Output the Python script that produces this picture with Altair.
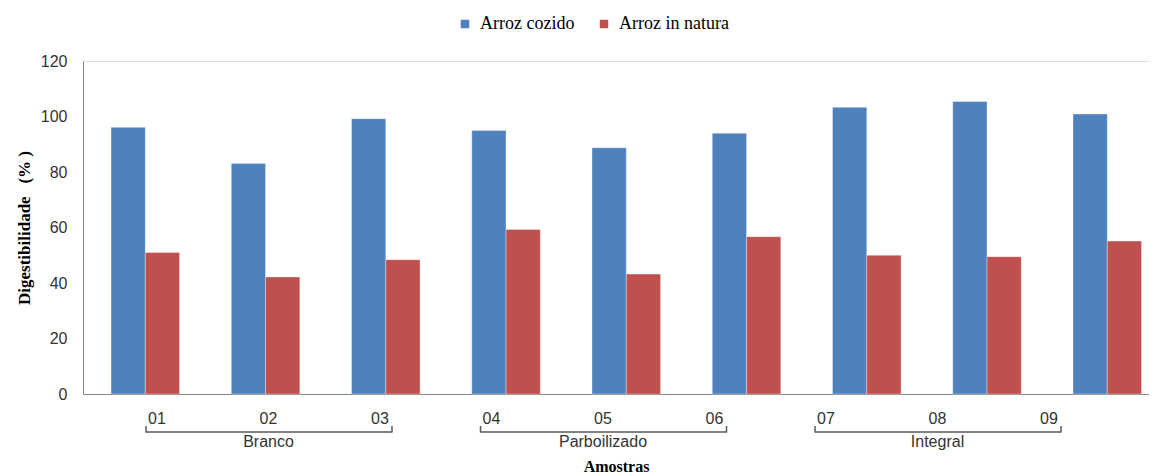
import altair as alt
import pandas as pd

# ---- data ----
amostras = ["01", "02", "03", "04", "05", "06", "07", "08", "09"]
grupos = ["Branco", "Branco", "Branco",
          "Parboilizado", "Parboilizado", "Parboilizado",
          "Integral", "Integral", "Integral"]
arroz_cozido = [96.1, 83.1, 99.2, 95.0, 88.7, 94.0, 103.3, 105.4, 100.9]
arroz_in_natura = [51.0, 42.2, 48.4, 59.3, 43.2, 56.7, 50.0, 49.5, 55.1]
series = ["Arroz cozido", "Arroz in natura"]
y_ticks = [0, 20, 40, 60, 80, 100, 120]

rows = []
for a, c, n in zip(amostras, arroz_cozido, arroz_in_natura):
    rows.append({"amostra": a, "serie": series[0], "valor": c})
    rows.append({"amostra": a, "serie": series[1], "valor": n})
df = pd.DataFrame(rows)

df_lab = pd.DataFrame({"amostra": amostras, "grupo": grupos})

grp_rows = []
for g in dict.fromkeys(grupos):
    members = [a for a, gg in zip(amostras, grupos) if gg == g]
    grp_rows.append({"grupo": g, "primeira": members[0],
                     "meio": members[len(members) // 2], "ultima": members[-1]})
df_grp = pd.DataFrame(grp_rows)

SANS = "Liberation Sans"
SERIF = "Liberation Serif"
AXIS_GRAY = "#868686"
TXT = "#333333"
BR = "#595959"
NB = "\u00a0"

band_scale = alt.Scale(domain=amostras, paddingInner=0.43,
                       paddingOuter=0.1475, align=0.79)
overlay_scale = alt.Scale(type="point", domain=amostras, range=[74, 966], padding=0)

bars = alt.Chart(df).mark_bar(stroke="white", strokeOpacity=0.35, strokeWidth=1).encode(
    x=alt.X("amostra:N", scale=band_scale,
            axis=alt.Axis(labels=False, ticks=False, tickSize=0, domainColor=AXIS_GRAY,
                          title="Amostras", titleFont=SERIF, titleFontSize=16,
                          titleFontWeight="bold", titleColor="black",
                          titlePadding=64, titleBaseline="top")),
    xOffset=alt.XOffset("serie:N", sort=series,
                        scale=alt.Scale(paddingInner=0, paddingOuter=0)),
    y=alt.Y("valor:Q", scale=alt.Scale(domain=[0, 120], nice=False),
            axis=alt.Axis(values=y_ticks, grid=False, ticks=False, tickSize=0,
                          domainColor=AXIS_GRAY, labelFont=SANS, labelFontSize=16,
                          labelColor=TXT, labelPadding=16,
                          title="Digestibilidade" + NB * 3 + "(%" + NB + ")",
                          titleFont=SERIF, titleFontSize=17, titleFontWeight="bold",
                          titleColor="black", titlePadding=7)),
    color=alt.Color("serie:N",
                    scale=alt.Scale(domain=series, range=["#4F81BD", "#C0504D"]),
                    legend=alt.Legend(title=None, orient="none", legendX=373, legendY=-46,
                                      direction="horizontal", symbolType="square",
                                      symbolSize=72, symbolStrokeWidth=0,
                                      labelFont=SERIF, labelFontSize=18,
                                      labelColor="black", columnPadding=20,
                                      labelOffset=6, padding=0)),
)

sample_labels = alt.Chart(df_lab).mark_text(
    font=SANS, fontSize=16, color=TXT, baseline="middle", align="center"
).encode(
    x=alt.X("amostra:N", scale=overlay_scale, axis=None),
    y=alt.value(358),
    text="amostra:N",
)

bracket_h = alt.Chart(df_grp).mark_rule(
    color=BR, strokeWidth=1.5, xOffset=-11, x2Offset=12
).encode(
    x=alt.X("primeira:N", scale=overlay_scale, axis=None),
    x2="ultima:N",
    y=alt.value(371),
)

bracket_l = alt.Chart(df_grp).mark_rule(color=BR, strokeWidth=1.5, xOffset=-11).encode(
    x=alt.X("primeira:N", scale=overlay_scale, axis=None),
    y=alt.value(365),
    y2=alt.value(371.5),
)

bracket_r = alt.Chart(df_grp).mark_rule(color=BR, strokeWidth=1.5, xOffset=12).encode(
    x=alt.X("ultima:N", scale=overlay_scale, axis=None),
    y=alt.value(365),
    y2=alt.value(371.5),
)

group_labels = alt.Chart(df_grp).mark_text(
    font=SANS, fontSize=16, color=TXT, baseline="middle", align="center"
).encode(
    x=alt.X("meio:N", scale=overlay_scale, axis=None),
    y=alt.value(381),
    text="grupo:N",
)

chart = alt.layer(
    bars, sample_labels, bracket_h, bracket_l, bracket_r, group_labels
).resolve_scale(x="independent").properties(
    width=1066, height=333,
    autosize=alt.AutoSizeParams(type="none"),
    padding={"left": 75, "top": 53, "right": 0, "bottom": 82},
).configure_view(stroke=None).configure(background="white")

chart.save("out.html", embed_options={"renderer": "svg", "actions": False})
